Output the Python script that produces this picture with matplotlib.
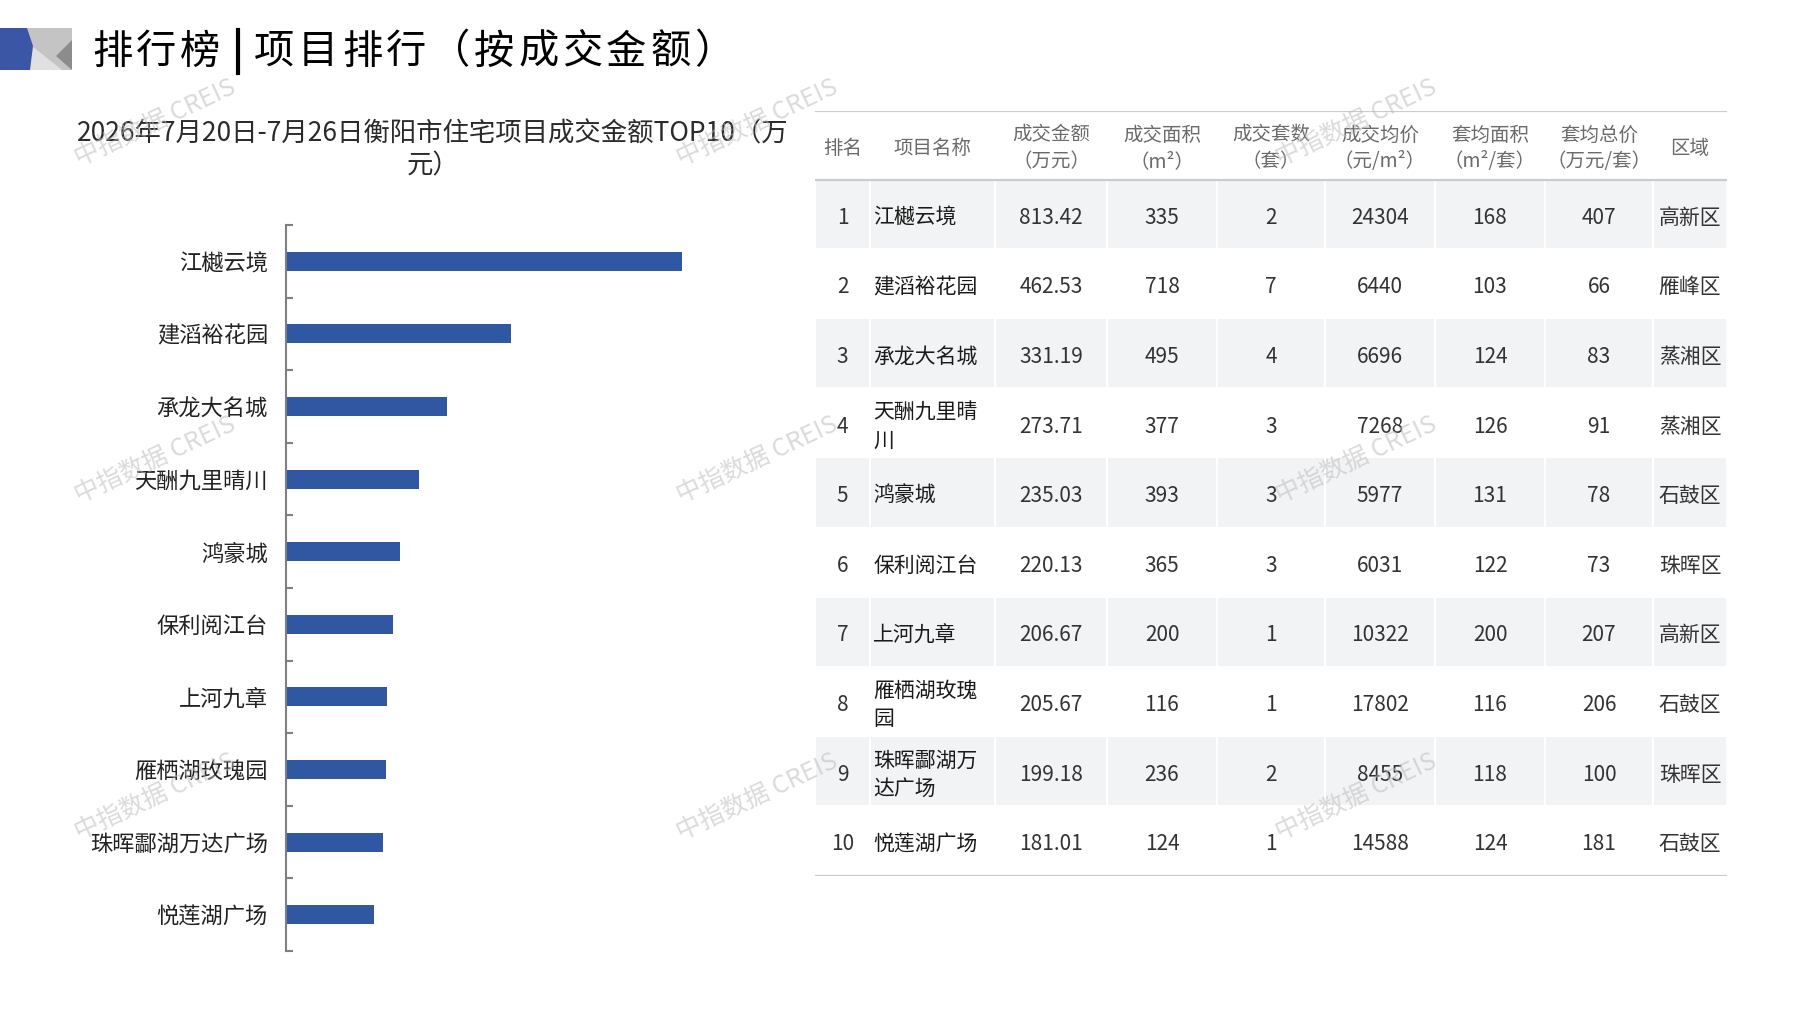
import matplotlib
matplotlib.use("Agg")
import matplotlib.pyplot as plt
from matplotlib.patches import Polygon, Rectangle
import numpy as np

plt.rcParams['font.family'] = ['Noto Sans CJK SC', 'DejaVu Sans']

# data
projects = ["江樾云境", "建滔裕花园", "承龙大名城", "天酬九里晴川", "鸿豪城",
            "保利阅江台", "上河九章", "雁栖湖玫瑰园", "珠晖酃湖万达广场", "悦莲湖广场"]
amount = [813.42, 462.53, 331.19, 273.71, 235.03, 220.13, 206.67, 205.67, 199.18, 181.01]
area = [335, 718, 495, 377, 393, 365, 200, 116, 236, 124]
units = [2, 7, 4, 3, 3, 3, 1, 1, 2, 1]
avg_price = [24304, 6440, 6696, 7268, 5977, 6031, 10322, 17802, 8455, 14588]
unit_area = [168, 103, 124, 126, 131, 122, 200, 116, 118, 124]
unit_total = [407, 66, 83, 91, 78, 73, 207, 206, 100, 181]
district = ["高新区", "雁峰区", "蒸湘区", "蒸湘区", "石鼓区",
            "珠晖区", "高新区", "石鼓区", "珠晖区", "石鼓区"]
headers = ["排名", "项目名称", "成交金额\n（万元）", "成交面积\n（m²）", "成交套数\n（套）",
           "成交均价\n（元/m²）", "套均面积\n（m²/套）", "套均总价\n（万元/套）", "区域"]

page_title = "排行榜|项目排行（按成交金额）"
chart_title = "2026年7月20日-7月26日衡阳市住宅项目成交金额TOP10（万\n元）"
watermark = "中指数据 CREIS"

W, H = 1797, 1010
fig = plt.figure(figsize=(W / 100, H / 100), dpi=100)

# ---- bar chart ----
ax = fig.add_axes([286 / W, 1 - 951 / H, 487 / W, 726 / H])
ypos = np.arange(len(projects))
ax.barh(ypos, amount, height=0.26, color='#3057A2')
ax.set_xlim(0, 1000)
ax.set_ylim(len(projects) - 0.5, -0.5)
ax.set_yticks(ypos)
ax.set_yticklabels(projects, fontsize=16, color='#222222')
ax.set_yticks(np.arange(-0.5, len(projects)), minor=True)
ax.tick_params(axis='y', which='major', length=0, pad=13)
ax.tick_params(axis='y', which='minor', direction='in', length=5, width=1.5, color='#7f7f7f')
ax.xaxis.set_visible(False)
for s in ['top', 'right', 'bottom']:
    ax.spines[s].set_visible(False)
ax.spines['left'].set_color('#7f7f7f')
ax.spines['left'].set_linewidth(1.5)

# ---- table ----
col_w = [55, 125, 112, 110, 108, 110, 110, 108, 74]
edges = np.concatenate([[0], np.cumsum(col_w)])
centers = (edges[:-1] + edges[1:]) / 2
header_h = 69
row_h = 69.6
tot_h = header_h + row_h * len(projects)

axt = fig.add_axes([815 / W, 1 - (111 + tot_h) / H, edges[-1] / W, tot_h / H])
axt.set_xlim(0, edges[-1])
axt.set_ylim(tot_h, 0)
axt.axis('off')

for i in range(len(projects)):
    top = header_h + i * row_h
    if i % 2 == 0:
        for j in range(len(col_w)):
            axt.add_patch(Rectangle((edges[j] + 1, top), col_w[j] - 2, row_h - 1.5,
                                    facecolor='#f2f3f5', edgecolor='none'))
    yc = top + row_h / 2 + 3
    name = projects[i] if len(projects[i]) <= 5 else projects[i][:5] + "\n" + projects[i][5:]
    axt.text(centers[0], yc, str(i + 1), ha='center', va='center', fontsize=15, color='#333333')
    axt.text(edges[1] + 3, yc, name, ha='left', va='center', fontsize=15,
             color='#1a1a1a', linespacing=1.35)
    vals = [f"{amount[i]:.2f}", area[i], units[i], avg_price[i], unit_area[i], unit_total[i], district[i]]
    for j, v in enumerate(vals):
        axt.text(centers[j + 2], yc, str(v), ha='center', va='center', fontsize=15, color='#333333')

for j, h in enumerate(headers):
    axt.text(centers[j], header_h / 2 + 3, h, ha='center', va='center',
             fontsize=14, color='#6b6b6b', linespacing=1.35)

for yl in [0, header_h, tot_h]:
    axt.axhline(yl, color='#cccccc', lw=1.6)

# ---- page decorations, titles, watermarks ----
axo = fig.add_axes([0, 0, 1, 1], zorder=5)
axo.set_xlim(0, W)
axo.set_ylim(H, 0)
axo.axis('off')

axo.add_patch(Polygon([(27, 28), (72, 28), (72, 70), (30, 70)], closed=True, fc='#c4c4c4', ec='none'))
axo.add_patch(Polygon([(32, 46), (62, 70), (30, 70)], closed=True, fc='#e0e0e0', ec='none'))
axo.add_patch(Polygon([(72, 40), (72, 70), (56, 56)], closed=True, fc='#8c8c8c', ec='none'))
axo.add_patch(Polygon([(0, 28), (27, 28), (33, 46), (30, 70), (0, 70)], closed=True,
                      fc='#3a56a5', ec='none'))

x = 92
for ch in page_title:
    if ch == '|':
        axo.plot([x + 14, x + 14], [30, 73], color='black', lw=3)
        x += 30
        continue
    axo.text(x, 52, ch, fontsize=29, ha='left', va='center', color='black')
    x += 44

axo.text(433, 150, chart_title, fontsize=19, ha='center', va='center',
         multialignment='center', color='#2a2a2a', linespacing=1.25)

for wx in [155, 757, 1356]:
    for wy in [123, 460, 797]:
        axo.text(wx, wy, watermark, fontsize=18, rotation=25, ha='center', va='center',
                 color='#bdbdbd', alpha=0.55)

fig.savefig("out.png", dpi=100)
